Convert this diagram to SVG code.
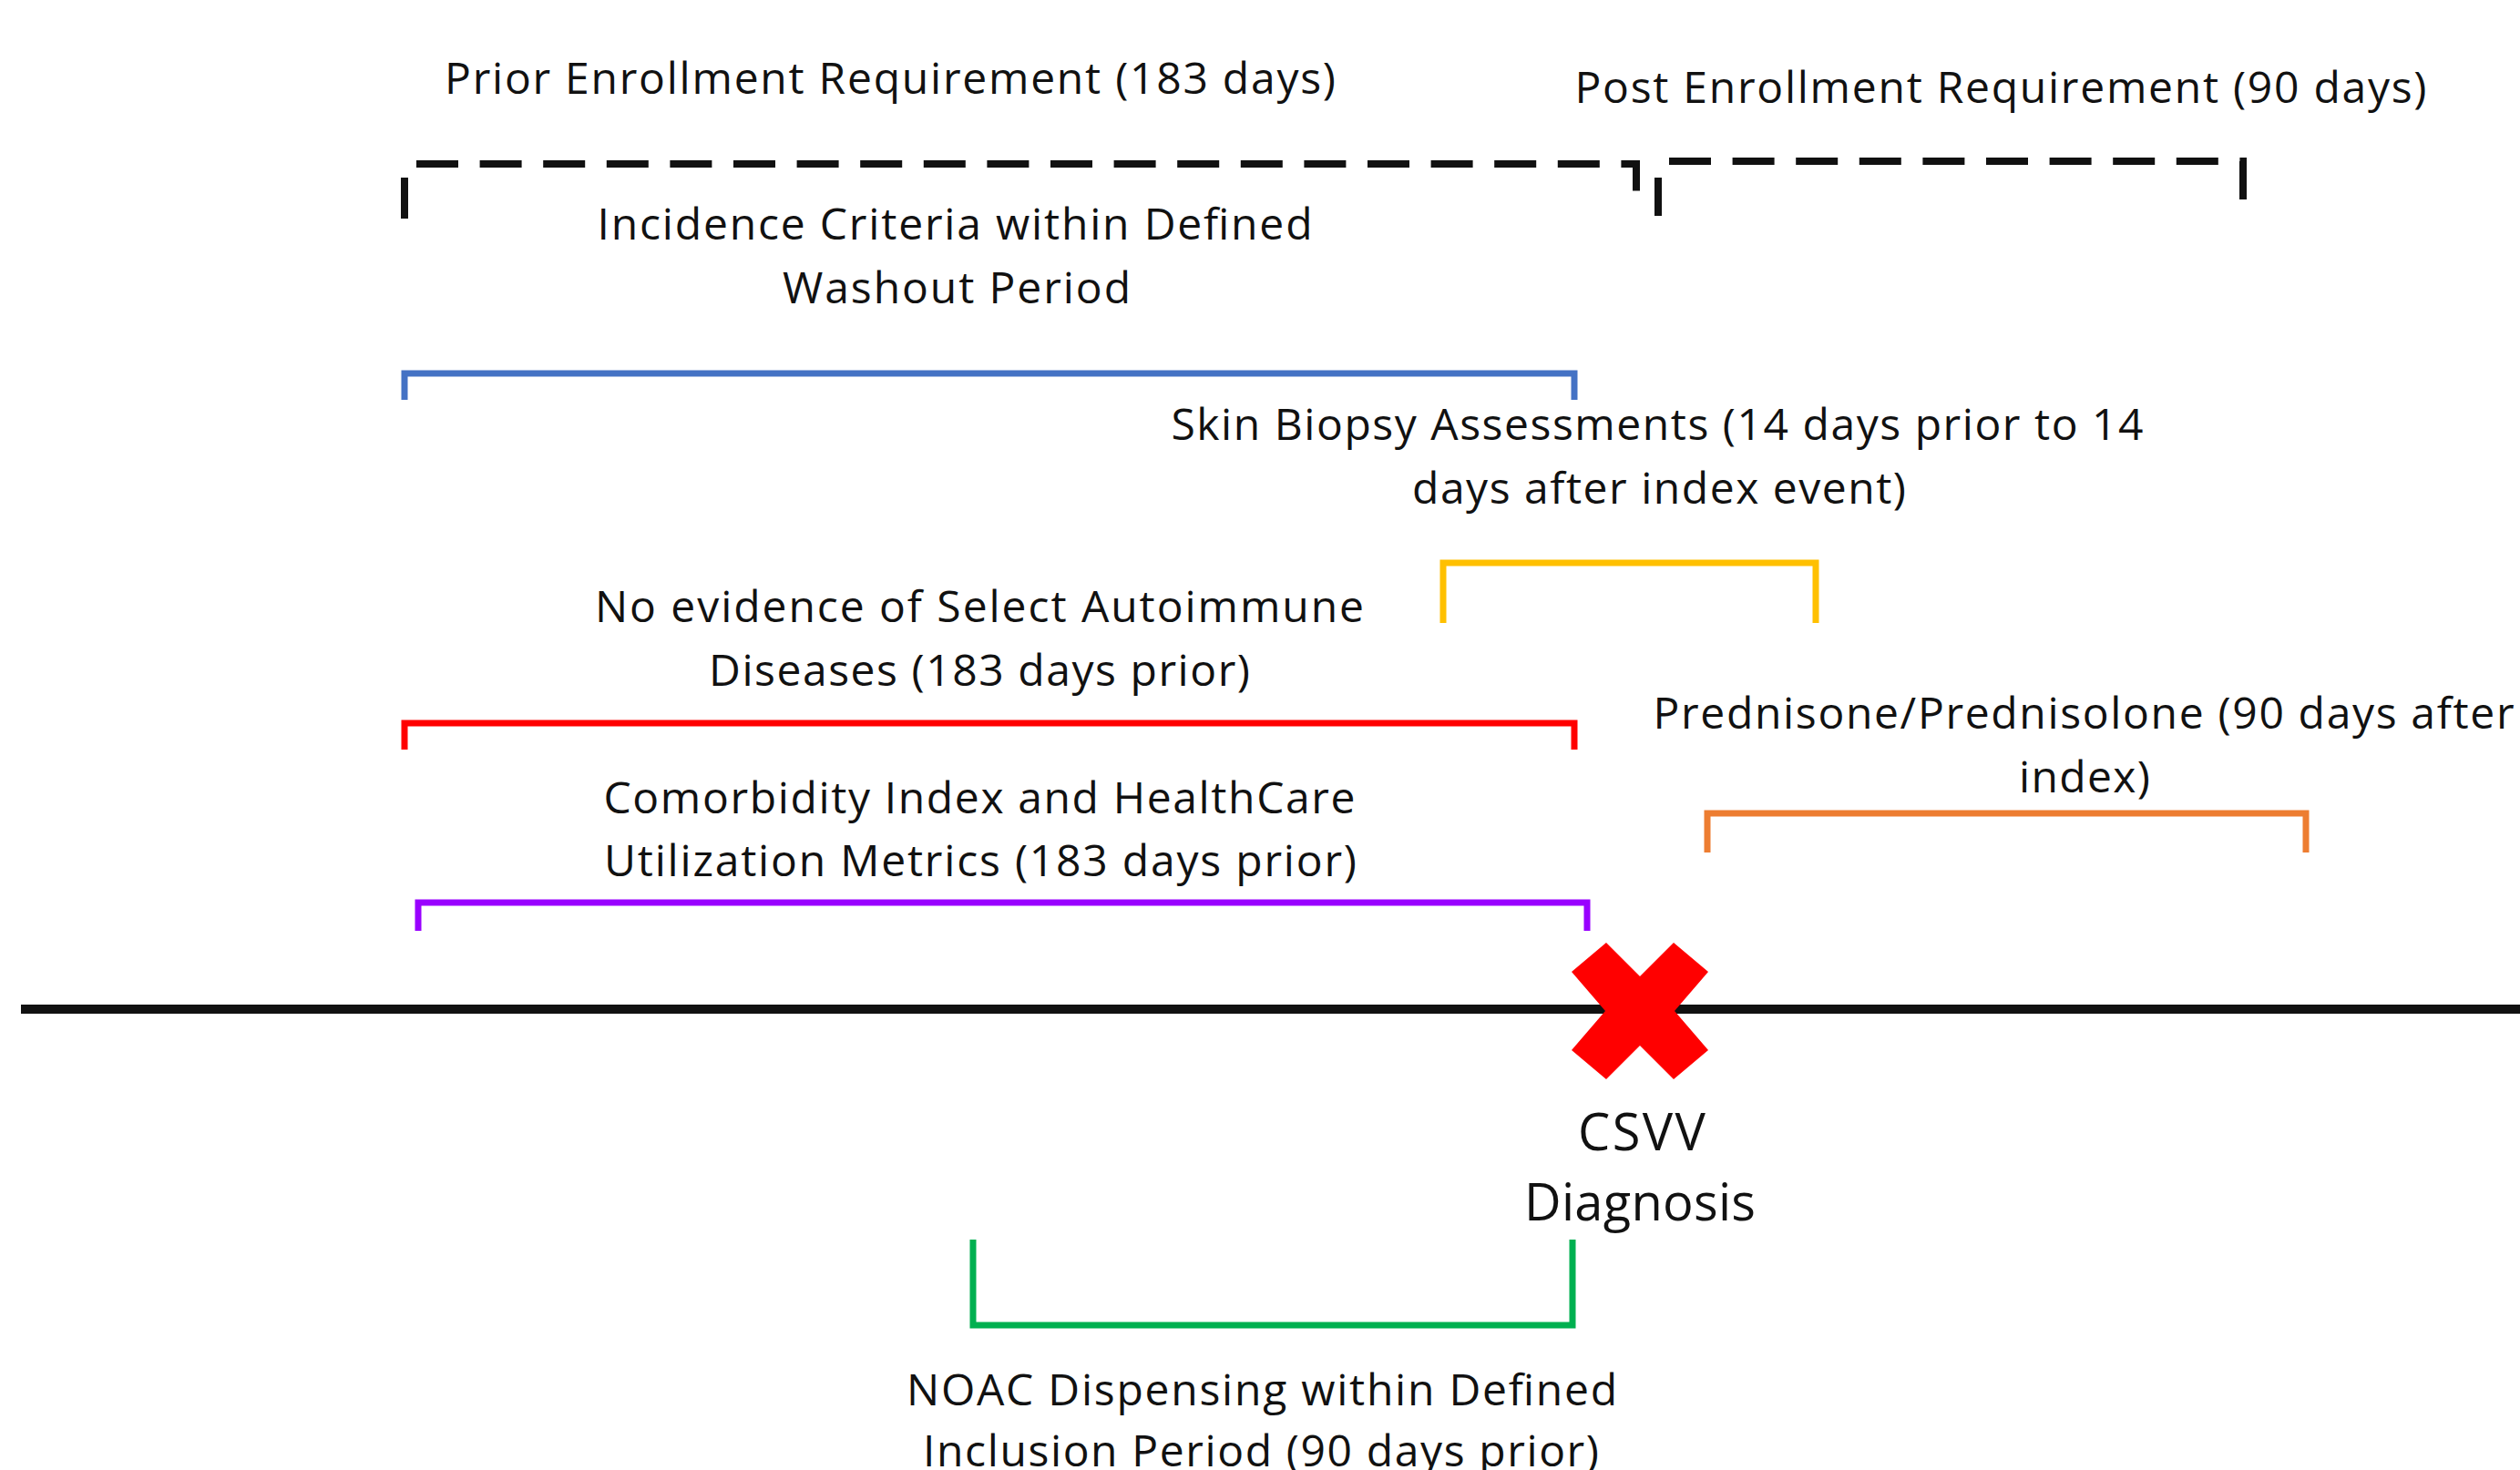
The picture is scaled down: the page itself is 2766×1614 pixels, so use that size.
<svg xmlns="http://www.w3.org/2000/svg" width="2766" height="1614" viewBox="0 0 2766 1614">
  <style>
    .lbl { font-family: "Open Sans", "Noto Sans", "Liberation Sans", sans-serif; font-size: 48px; fill: #111111; text-anchor: middle; }
    .big { font-size: 56px; }
    .br { fill: none; stroke-width: 7; stroke-linejoin: miter; stroke-linecap: butt; }
    .dash { fill: none; stroke: #111111; stroke-width: 8; stroke-dasharray: 46 23.6; }
    .tick { stroke: #111111; stroke-width: 8; }
  </style>

  <g id="timeline">
    <line x1="23" y1="1108" x2="2766" y2="1108" stroke="#111111" stroke-width="10"/>
  </g>

  <g id="prior-enrollment">
    <text class="lbl" x="977" y="103" textLength="978">Prior Enrollment Requirement (183 days)</text>
    <line class="tick" x1="444" y1="195" x2="444" y2="240"/>
    <path class="dash" d="M457,180 H1796 V214"/>
  </g>

  <g id="post-enrollment">
    <text class="lbl" x="2196" y="113" textLength="935">Post Enrollment Requirement (90 days)</text>
    <line class="tick" x1="1820" y1="195" x2="1820" y2="237"/>
    <path class="dash" d="M1832,177 H2462 V219"/>
  </g>

  <g id="incidence">
    <text class="lbl" x="1048" y="263" textLength="785">Incidence Criteria within Defined</text>
    <text class="lbl" x="1050" y="333" textLength="382">Washout Period</text>
    <path class="br" stroke="#4472C4" d="M444,439 V410 H1728 V439"/>
  </g>

  <g id="skin-biopsy">
    <text class="lbl" x="1819" y="483" textLength="1067">Skin Biopsy Assessments (14 days prior to 14</text>
    <text class="lbl" x="1821" y="553" textLength="542">days after index event)</text>
    <path class="br" stroke="#FFC000" d="M1584,684 V618 H1993 V684"/>
  </g>

  <g id="autoimmune">
    <text class="lbl" x="1075" y="683" textLength="844">No evidence of Select Autoimmune</text>
    <text class="lbl" x="1075" y="753" textLength="594">Diseases (183 days prior)</text>
    <path class="br" stroke="#FF0000" d="M444,823 V794 H1728 V823"/>
  </g>

  <g id="prednisone">
    <text class="lbl" x="2287" y="800" textLength="945">Prednisone/Prednisolone (90 days after</text>
    <text class="lbl" x="2288" y="870" textLength="144">index)</text>
    <path class="br" stroke="#ED7D31" d="M1874,936 V893 H2531 V936"/>
  </g>

  <g id="comorbidity">
    <text class="lbl" x="1075" y="893" textLength="825">Comorbidity Index and HealthCare</text>
    <text class="lbl" x="1076" y="962" textLength="826">Utilization Metrics (183 days prior)</text>
    <path class="br" stroke="#9900FF" d="M459,1022 V991 H1742 V1022"/>
  </g>

  <g id="csvv-diagnosis">
    <polygon fill="#FF0000" points="1725,1067 1763,1035 1800,1072 1837,1035 1875,1067 1838,1110 1875,1153 1837,1185 1800,1148 1763,1185 1725,1153 1762,1110"/>
    <text class="lbl big" x="1802" y="1263" textLength="140">CSVV</text>
    <text class="lbl big" x="1800" y="1340" textLength="254">Diagnosis</text>
  </g>

  <g id="noac">
    <path class="br" stroke="#00B050" d="M1068,1361 V1455 H1726 V1361"/>
    <text class="lbl" x="1385" y="1543" textLength="780">NOAC Dispensing within Defined</text>
    <text class="lbl" x="1384" y="1610" textLength="742">Inclusion Period (90 days prior)</text>
  </g>

  <g id="connectors"></g>
</svg>
